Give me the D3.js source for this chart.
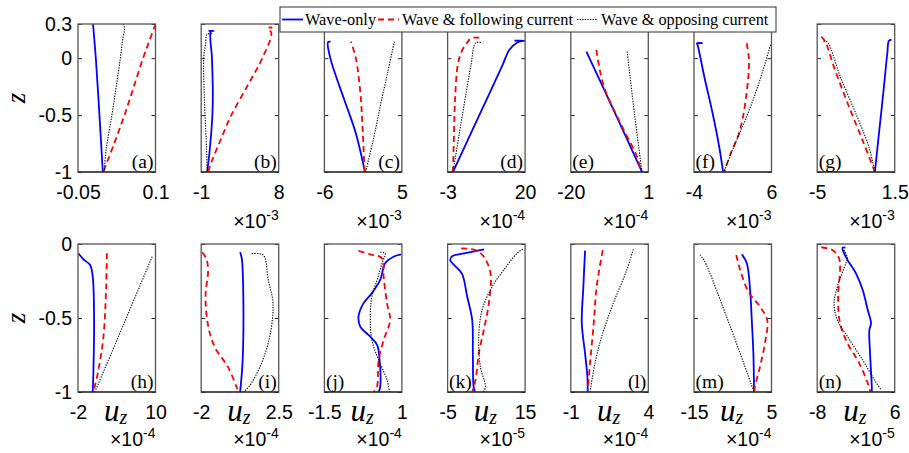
<!DOCTYPE html>
<html lang="en">
<head>
<meta charset="UTF-8">
<title>Vertical profiles of u_z</title>
<script src="https://d3js.org/d3.v7.min.js"></script>
<style>
  body, html { margin: 0; background: #fff; }
  svg { display: block; }
  .serif { font-family: 'Liberation Serif', 'Times New Roman', serif; fill: #000; }
</style>
</head>
<body>
<svg id="chart" width="909" height="453"></svg>
<script>
// panel labels, x ranges (in the displayed units) and exponent of the x axis
const panelNames = ["(a)", "(b)", "(c)", "(d)", "(e)", "(f)", "(g)",
                    "(h)", "(i)", "(j)", "(k)", "(l)", "(m)", "(n)"];
const xDomains = [[-0.05, 0.1], [-1, 8], [-6, 5], [-3, 20], [-20, 1], [-4, 6], [-5, 1.5],
                  [-2, 10], [-2, 2.5], [-1.5, 1], [-5, 15], [-1, 4], [-15, 5], [-8, 6]];
const exponents = [null, -3, -3, -4, -4, -3, -3, -4, -4, -4, -5, -4, -4, -5];
const labelSide = ["r", "r", "r", "r", "l", "l", "l", "r", "r", "l", "l", "r", "l", "l"];
const zTicksTop = [-1, -0.5, 0, 0.3];
const zTicksBottom = [-1, -0.5, 0];
const seriesNames = ["Wave-only", "Wave & following current", "Wave & opposing current"];

// profiles as [u, z]
const waveOnly = [
  [[-0.021, 0.3], [-0.0155, 0], [-0.0085, -0.5], [-0.002, -1]],
  [[-0.3, -1], [0.0, -0.8], [0.3, -0.5], [0.35, -0.3], [0.25, 0], [0.12, 0.235], [0.45, 0.24], [-0.15, 0.24]],
  [[-0.24, -1], [-1.54, -0.66], [-3.17, -0.367], [-4.4, -0.15], [-5.16, 0.0], [-5.49, 0.14], [-5.12, 0.145]],
  [[-1.41, -1], [4.86, -0.6], [9.57, -0.3], [13.33, -0.06], [15.3, 0.072], [17.8, 0.14], [20, 0.154], [16.8, 0.154]],
  [[-15.78, 0.057], [-8.2, -0.47], [-0.7, -1]],
  [[-2.89, 0.131], [-3.62, 0.131], [-3.53, 0.116], [-2.67, -0.163], [-1.6, -0.484], [-0.75, -0.778], [-0.24, -1]],
  [[-0.16, -1], [0.18, -0.66], [0.54, -0.308], [0.88, 0.043], [1.02, 0.154], [1.24, 0.16]],
  [[-1.95, -0.063], [-1.17, -0.103], [-0.13, -0.142], [0.28, -0.221], [0.49, -0.514], [0.39, -0.851], [0.28, -1]],
  [[0.26, -0.056], [0.36, -0.1], [0.45, -0.4], [0.4, -0.8], [0.26, -1]],
  [[0.97, -0.07], [0.73, -0.086], [0.46, -0.13], [0.3, -0.243], [0.03, -0.333], [-0.24, -0.401], [-0.4, -0.491],
   [-0.34, -0.559], [-0.02, -0.626], [0.2, -0.682], [0.28, -0.784], [0.3, -0.964], [0.25, -1]],
  [[4.44, -0.036], [-0.71, -0.063], [-3.72, -0.081], [-4.34, -0.108], [-3.31, -0.142], [-1.3, -0.2], [0.06, -0.356],
   [1.35, -0.514], [1.52, -0.739], [1.71, -0.964], [2.1, -1]],
  [[-0.08, -0.045], [-0.19, -0.289], [-0.29, -0.536], [-0.08, -0.739], [0.07, -0.896], [0.09, -1]],
  [[-2.64, -0.07], [-1.37, -0.13], [-0.52, -0.311], [-0.09, -0.514], [0.32, -0.739], [0.5, -1]],
  [[-2.9, -0.025], [-3.43, -0.025], [-3.14, -0.063], [-2.52, -0.108], [-1.0, -0.198], [0.22, -0.311], [1.13, -0.446],
   [1.73, -0.536], [1.42, -0.581], [1.55, -0.739], [1.86, -0.964], [1.86, -1]]
];
const following = [
  [[0.1, 0.3], [0.088, 0.15], [0.076, 0], [0.058, -0.25], [0.04, -0.5], [0.02, -0.75], [-0.001, -1]],
  [[-0.19, -1], [0.28, -0.895], [1.25, -0.719], [2.41, -0.514], [4.54, -0.22], [6.1, 0.0], [7.15, 0.219], [6.76, 0.265], [7.27, 0.268]],
  [[-0.29, -1], [-0.6, -0.6], [-0.9, -0.3], [-1.54, 0], [-2.24, 0.145]],
  [[-1.41, -1], [-1.1, -0.66], [-0.8, -0.367], [0.08, -0.05], [1.38, 0.072], [2.88, 0.14], [4.0, 0.175], [6.4, 0.18]],
  [[-13.09, 0.072], [-11.03, -0.25], [-6.09, -0.602], [-2.05, -0.866], [-0.97, -1]],
  [[2.79, 0.131], [3.09, -0.02], [2.67, -0.367], [1.81, -0.66], [0.74, -0.835], [-0.11, -1]],
  [[-4.66, 0.189], [-4.32, 0.145], [-3.62, -0.07], [-2.36, -0.42], [-1.09, -0.748], [-0.16, -1]],
  [[2.47, -0.063], [2.36, -0.289], [1.94, -0.626], [1.16, -0.851], [0.39, -1]],
  [[-1.94, -0.056], [-1.7, -0.1], [-1.6, -0.18], [-1.75, -0.35], [-1.6, -0.55], [-1.2, -0.7], [-0.45, -0.83], [0.1, -0.98]],
  [[-0.4, -0.047], [-0.02, -0.07], [0.36, -0.097], [0.41, -0.221], [0.52, -0.401], [0.62, -0.514], [0.41, -0.649],
   [0.25, -0.784], [0.2, -0.959], [0.09, -1]],
  [[-1.5, -0.03], [2.2, -0.041], [4.34, -0.086], [6.07, -0.198], [5.64, -0.401], [4.34, -0.581], [3.06, -0.739], [2.2, -0.919], [1.35, -1]],
  [[1.06, -0.041], [0.67, -0.289], [0.46, -0.559], [0.24, -0.806], [0.09, -0.99]],
  [[-4.1, -0.074], [-3.08, -0.176], [-0.96, -0.322], [2.03, -0.424], [3.9, -0.514], [3.3, -0.671], [2.03, -0.829], [0.75, -0.96], [0.5, -1]],
  [[-7.27, -0.022], [-5.26, -0.041], [-4.05, -0.097], [-3.87, -0.176], [-4.23, -0.356], [-3.87, -0.536], [-2.52, -0.671],
   [-0.4, -0.806], [1.13, -0.941], [1.61, -1]]
];
const opposing = [
  [[0.037, 0.3], [0.04, 0.27], [0.036, 0.15], [0.032, 0], [0.024, -0.25], [0.0156, -0.5], [0.0045, -0.8], [0.0006, -1]],
  [[0.25, 0.215], [-0.3, 0.21], [-0.5, 0.12], [-0.7, 0.01], [-0.62, -0.37], [-0.38, -0.8], [-0.3, -1]],
  [[-0.15, -1], [1.0, -0.7], [2.0, -0.4], [3.0, -0.12], [3.93, 0.145]],
  [[-1.41, -1], [0.49, -0.66], [2.14, -0.367], [4.0, -0.05], [5.36, 0.134], [7.35, 0.134]],
  [[-4.74, 0.057], [-2.7, -0.5], [-0.7, -1]],
  [[5.87, 0.116], [4.37, -0.221], [2.79, -0.514], [0.96, -0.807], [-0.11, -1]],
  [[-4.47, 0.145], [-4.18, 0.145], [-3.06, -0.163], [-1.65, -0.514], [-0.67, -0.778], [-0.16, -1]],
  [[9.48, -0.086], [5.0, -0.55], [0.6, -1]],
  [[0.94, -0.065], [1.6, -0.075], [1.89, -0.243], [2.17, -0.401], [1.98, -0.626], [1.5, -0.806], [0.83, -0.955], [0.45, -1]],
  [[0.3, -0.056], [0.46, -0.063], [0.36, -0.13], [0.2, -0.243], [0.03, -0.356], [-0.02, -0.514], [0.03, -0.649],
   [0.25, -0.784], [0.52, -0.919], [0.6, -1]],
  [[14.4, -0.035], [12.9, -0.063], [9.46, -0.176], [6.48, -0.289], [3.9, -0.446], [3.03, -0.626], [3.46, -0.829], [4.75, -0.964], [4.2, -1]],
  [[3.03, -0.036], [2.61, -0.176], [1.74, -0.401], [0.99, -0.626], [0.56, -0.806], [0.24, -1]],
  [[-13.47, -0.074], [-12.45, -0.108], [-5.63, -0.559], [0.5, -1]],
  [[-3.14, -0.041], [-2.52, -0.097], [-2.83, -0.13], [-4.35, -0.289], [-4.96, -0.401], [-4.35, -0.514], [-2.52, -0.626],
   [0.22, -0.784], [2.34, -0.919], [3.56, -0.986]]
];

const svg = d3.select("#chart");
const sans = "'Liberation Sans', Arial, Helvetica, sans-serif";
const styles = [
  {stroke: "#0000ff", width: 1.8, dash: null},
  {stroke: "#ff0000", width: 1.8, dash: "6,4"},
  {stroke: "#000000", width: 1.1, dash: "1.3,1.3"}
];

const panelW = 77.5, panelH = 148;
const left0 = 78, step = 123.2;
const rowTop = [24, 244];

panelNames.forEach((name, i) => {
  const row = i < 7 ? 0 : 1;
  const col = i % 7;
  const x0 = left0 + col * step;
  const y0 = rowTop[row];

  const x = d3.scaleLinear().domain(xDomains[i]).range([0, panelW]);
  const y = d3.scaleLinear().domain(row === 0 ? [-1, 0.3] : [-1, 0]).range([panelH, 0]);
  const zTicks = row === 0 ? zTicksTop : zTicksBottom;

  const g = svg.append("g").attr("transform", `translate(${x0},${y0})`);

  g.append("clipPath").attr("id", "clip" + i)
    .append("rect").attr("width", panelW).attr("height", panelH);

  // axes
  const ax = g.append("g").call(d3.axisLeft(y).tickValues(zTicks).tickSize(-4).tickPadding(6)
      .tickFormat(col === 0 ? d => String(d) : ""));
  const axr = g.append("g").attr("transform", `translate(${panelW},0)`)
    .call(d3.axisRight(y).tickValues(zTicks).tickSize(-4).tickFormat(""));
  const axb = g.append("g").attr("transform", `translate(0,${panelH})`)
    .call(d3.axisBottom(x).tickValues(xDomains[i]).tickSize(0).tickPadding(13).tickFormat(d => String(d)));
  [ax, axr, axb].forEach(a => {
    a.select(".domain").remove();
    a.selectAll(".tick line").attr("stroke", "#262626");
    a.selectAll(".tick text").style("font-family", sans).style("font-size", "19.5px").attr("fill", "#000");
  });

  // profiles
  const line = d3.line().x(d => x(d[0])).y(d => y(d[1])).curve(d3.curveCatmullRom.alpha(0.5));
  [waveOnly[i], following[i], opposing[i]].forEach((s, k) => {
    g.append("path")
      .datum(s)
      .attr("clip-path", `url(#clip${i})`)
      .attr("d", line)
      .attr("fill", "none")
      .attr("stroke", styles[k].stroke)
      .attr("stroke-width", styles[k].width)
      .attr("stroke-dasharray", styles[k].dash);
  });

  // box
  g.append("rect").attr("width", panelW).attr("height", panelH)
    .attr("fill", "none").attr("stroke", "#555").attr("stroke-width", 1.3);
  g.append("line").attr("x1", 0).attr("x2", panelW).attr("y1", panelH).attr("y2", panelH)
    .attr("stroke", "#111").attr("stroke-width", 1.1);

  // panel letter
  g.append("text").attr("class", "serif")
    .attr("x", labelSide[i] === "r" ? panelW - 2 : 1.5)
    .attr("y", panelH - 4)
    .attr("text-anchor", labelSide[i] === "r" ? "end" : "start")
    .style("font-size", "19.5px")
    .text(name);

  // exponent
  if (exponents[i] !== null) {
    const t = g.append("text")
      .attr("x", panelW)
      .attr("y", panelH + (row === 0 ? 56 : 54))
      .attr("text-anchor", "end")
      .style("font-family", sans)
      .style("font-size", "19.5px");
    t.append("tspan").text("\u00d710");
    t.append("tspan").attr("dy", -8).style("font-size", "14px").text(String(exponents[i]));
  }

  // u_z label for the lower row
  if (row === 1) {
    const t = g.append("text").attr("class", "serif")
      .attr("x", panelW / 2 - 1)
      .attr("y", panelH + 29)
      .attr("text-anchor", "middle")
      .style("font-style", "italic")
      .style("font-size", "31px");
    t.append("tspan").text("u");
    t.append("tspan").attr("dy", 3).style("font-size", "20px").text("z");
  }
});

// z labels
[98, 318].forEach(cy => {
  svg.append("text").attr("class", "serif")
    .attr("transform", `translate(25,${cy}) rotate(-90)`)
    .attr("text-anchor", "middle")
    .style("font-style", "italic")
    .style("font-size", "27px")
    .text("z");
});

// legend
const lg = svg.append("g");
lg.append("rect").attr("x", 280).attr("y", 7).attr("width", 496).attr("height", 25)
  .attr("fill", "#fff").attr("stroke", "#333").attr("stroke-width", 1);
const legendLineX = [282, 378, 577];
const legendTextX = [305, 402, 601];
seriesNames.forEach((s, k) => {
  lg.append("line")
    .attr("x1", legendLineX[k]).attr("x2", legendLineX[k] + 21)
    .attr("y1", 19.5).attr("y2", 19.5)
    .attr("stroke", styles[k].stroke)
    .attr("stroke-width", styles[k].width)
    .attr("stroke-dasharray", styles[k].dash);
  lg.append("text").attr("class", "serif")
    .attr("x", legendTextX[k]).attr("y", 25)
    .style("font-size", "16.3px")
    .text(s);
});
</script>
</body>
</html>
